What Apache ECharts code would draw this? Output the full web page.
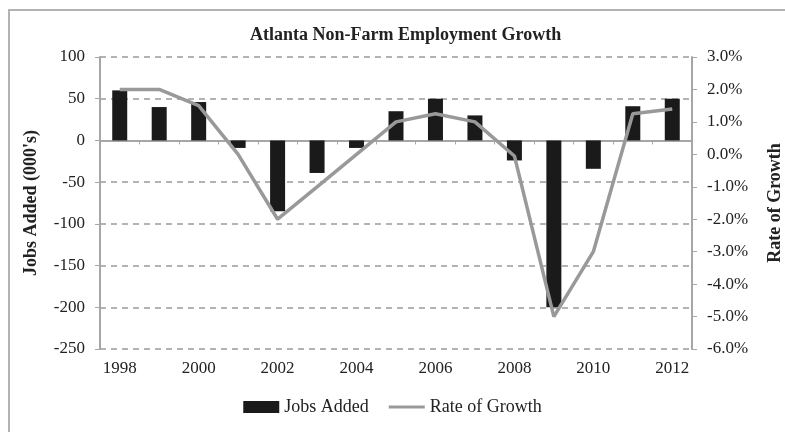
<!DOCTYPE html>
<html>
<head>
<meta charset="utf-8">
<script src="https://cdn.jsdelivr.net/npm/echarts@6/dist/echarts.min.js"></script>
<style>
  html, body { margin: 0; padding: 0; background: #fff; }
  #chart { width: 785px; height: 432px; }
</style>
</head>
<body>
<div id="chart"></div>
<script>
// Atlanta non-farm employment: jobs added (thousands) and annual growth rate (%)
const years = ['1998', '1999', '2000', '2001', '2002', '2003', '2004', '2005',
               '2006', '2007', '2008', '2009', '2010', '2011', '2012'];
const jobsAdded = [60, 40, 46, -9, -85, -39, -9, 35, 50, 30, -24, -200, -34, 41, 50];
const growthRate = [2.0, 2.0, 1.5, 0.0, -2.0, -1.0, 0.0, 1.0, 1.25, 1.0, -0.05, -5.0, -3.0, 1.25, 1.4];

const serif = '"Liberation Serif", "Times New Roman", serif';
const textColor = '#222';
const axisGray = '#a6a6a6';

const chart = echarts.init(document.getElementById('chart'), null, { renderer: 'canvas' });

chart.setOption({
  animation: false,
  backgroundColor: '#fff',
  textStyle: { fontFamily: serif, color: textColor },
  title: {
    text: 'Atlanta Non-Farm Employment Growth',
    left: 245,
    top: 21,
    textStyle: { fontFamily: serif, fontSize: 18, fontWeight: 'bold', color: textColor }
  },
  graphic: [{
    type: 'polyline',
    shape: { points: [[9, 440], [9, 10], [800, 10]] },
    style: { stroke: '#b3b3b3', lineWidth: 2, fill: null },
    silent: true
  }],
  legend: {
    bottom: 11,
    left: 'center',
    itemGap: 20,
    itemWidth: 36,
    itemHeight: 12,
    textStyle: { fontFamily: serif, fontSize: 18, color: textColor },
    data: [
      { name: 'Jobs Added', icon: 'rect' },
      { name: 'Rate of Growth', icon: 'path://M0,5 L36,5 L36,8 L0,8 Z' }
    ]
  },
  grid: { left: 100, right: 93, top: 57, bottom: 83, containLabel: false, outerBoundsMode: 'none' },
  xAxis: [
    {
      // category axis drawn through zero, no labels
      type: 'category',
      data: years,
      axisLine: { onZero: true, lineStyle: { color: axisGray, width: 2 } },
      axisTick: { show: true, length: 4, lineStyle: { color: axisGray, width: 1 } },
      axisLabel: { show: false },
      splitLine: { show: false }
    },
    {
      // year labels along the bottom edge
      type: 'category',
      data: years,
      position: 'bottom',
      axisLine: { show: false },
      axisTick: { show: false },
      axisLabel: {
        interval: 1,
        margin: 11,
        fontFamily: serif, fontSize: 17, color: textColor
      }
    }
  ],
  yAxis: [
    {
      type: 'value',
      min: -250, max: 100, interval: 50,
      name: "Jobs Added (000's)",
      nameLocation: 'middle',
      nameGap: 60,
      nameRotate: 90,
      nameTextStyle: { fontFamily: serif, fontSize: 18, fontWeight: 'bold', color: textColor },
      axisLine: { show: true, lineStyle: { color: axisGray, width: 2 } },
      axisTick: { show: true, length: 5, lineStyle: { color: axisGray } },
      axisLabel: { margin: 15, fontFamily: serif, fontSize: 17, color: textColor },
      splitLine: { show: true, lineStyle: { color: '#b3b3b3', width: 2, type: [6, 5] } }
    },
    {
      type: 'value',
      min: -6, max: 3, interval: 1,
      name: 'Rate of Growth',
      nameLocation: 'middle',
      nameGap: 74,
      nameRotate: 90,
      nameTextStyle: { fontFamily: serif, fontSize: 18, fontWeight: 'bold', color: textColor },
      axisLine: { show: true, lineStyle: { color: axisGray, width: 2 } },
      axisTick: { show: true, length: 5, lineStyle: { color: axisGray } },
      axisLabel: {
        margin: 15, fontFamily: serif, fontSize: 17, color: textColor,
        formatter: v => v.toFixed(1) + '%'
      },
      splitLine: { show: false }
    }
  ],
  series: [
    {
      name: 'Jobs Added',
      type: 'bar',
      xAxisIndex: 0,
      yAxisIndex: 0,
      data: jobsAdded,
      barWidth: 15,
      itemStyle: { color: '#1a1a1a' },
      z: 2
    },
    {
      name: 'Rate of Growth',
      type: 'line',
      xAxisIndex: 0,
      yAxisIndex: 1,
      data: growthRate,
      showSymbol: false,
      symbol: 'none',
      lineStyle: { color: '#999', width: 3.5 },
      itemStyle: { color: '#999' },
      z: 3
    }
  ]
});
</script>
</body>
</html>
